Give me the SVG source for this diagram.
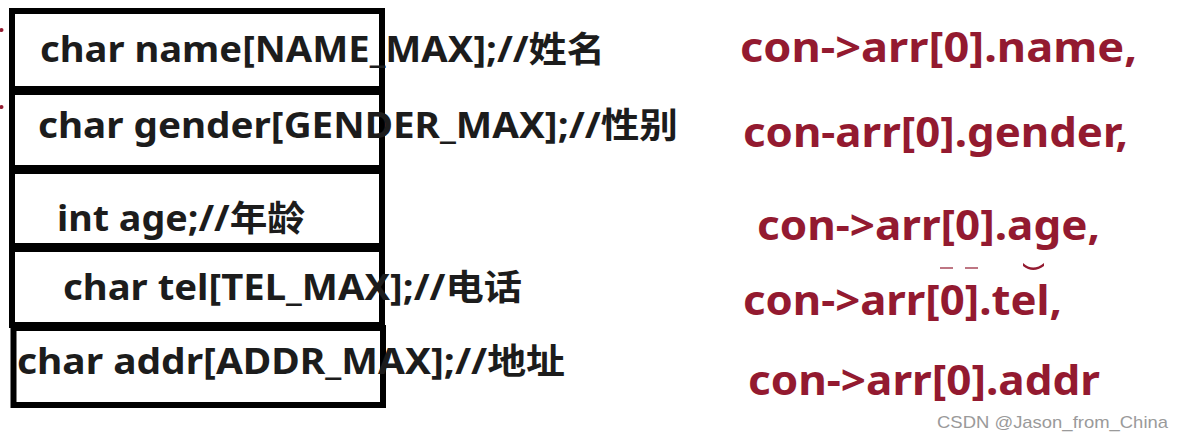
<svg xmlns="http://www.w3.org/2000/svg" width="1183" height="440" viewBox="0 0 1183 440">
<style>
.box{fill:none;stroke:#000;stroke-width:6}
.lt{font-family:"Noto Sans","Noto Sans CJK SC",sans-serif;font-weight:bold;font-size:35px;fill:#1c1c1c}
.rt{font-family:"Noto Sans","Noto Sans CJK SC",sans-serif;font-weight:bold;font-size:42px;fill:#931a30}
.wm{font-family:"Liberation Sans",Arial,sans-serif;font-size:17px;fill:#9a9a9a}
.mark{fill:#931a30}
</style>
<rect width="1183" height="440" fill="#fff"/>
<circle class="mark" cx="1.5" cy="30" r="2"/>
<circle class="mark" cx="1.5" cy="107" r="2"/>
<g id="field-name">
<rect class="box" x="12" y="11" width="370" height="78"/>
<text class="lt" x="40" y="62" textLength="565" lengthAdjust="spacingAndGlyphs">char name[NAME_MAX];//姓名</text>
</g>
<g id="field-gender">
<rect class="box" x="12" y="92" width="370" height="76"/>
<text class="lt" x="38" y="138" textLength="640" lengthAdjust="spacingAndGlyphs">char gender[GENDER_MAX];//性别</text>
</g>
<g id="field-age">
<rect class="box" x="12" y="171" width="370" height="75"/>
<text class="lt" x="57" y="231" textLength="248" lengthAdjust="spacingAndGlyphs">int age;//年龄</text>
</g>
<g id="field-tel">
<rect class="box" x="12" y="249" width="370" height="76"/>
<text class="lt" x="63" y="300" textLength="459" lengthAdjust="spacingAndGlyphs">char tel[TEL_MAX];//电话</text>
</g>
<g id="field-addr">
<rect class="box" x="13.5" y="328" width="369.5" height="77"/>
<text class="lt" x="17" y="374" textLength="548" lengthAdjust="spacingAndGlyphs">char addr[ADDR_MAX];//地址</text>
</g>
<g id="access-name"><text class="rt" x="740" y="62" textLength="397" lengthAdjust="spacingAndGlyphs">con-&gt;arr[0].name,</text></g>
<g id="access-gender"><text class="rt" x="743" y="147" textLength="385" lengthAdjust="spacingAndGlyphs">con-arr[0].gender,</text></g>
<g id="access-age"><text class="rt" x="757" y="240" textLength="343" lengthAdjust="spacingAndGlyphs">con-&gt;arr[0].age,</text></g>
<g id="access-tel"><text class="rt" x="743" y="315" textLength="319" lengthAdjust="spacingAndGlyphs">con-&gt;arr[0].tel,</text></g>
<g id="access-addr"><text class="rt" x="748" y="395" textLength="352" lengthAdjust="spacingAndGlyphs">con-&gt;arr[0].addr</text></g>
<rect class="mark" x="940" y="267" width="13" height="2" opacity="0.6"/>
<rect class="mark" x="965" y="267" width="13" height="2" opacity="0.6"/>
<path class="mark" d="M1023 263 Q1033 272 1044 263 L1044 266 Q1033 274 1023 266 Z"/>
<g id="connectors"/>
<text class="wm" x="937" y="428" textLength="231" lengthAdjust="spacingAndGlyphs">CSDN @Jason_from_China</text>
</svg>
